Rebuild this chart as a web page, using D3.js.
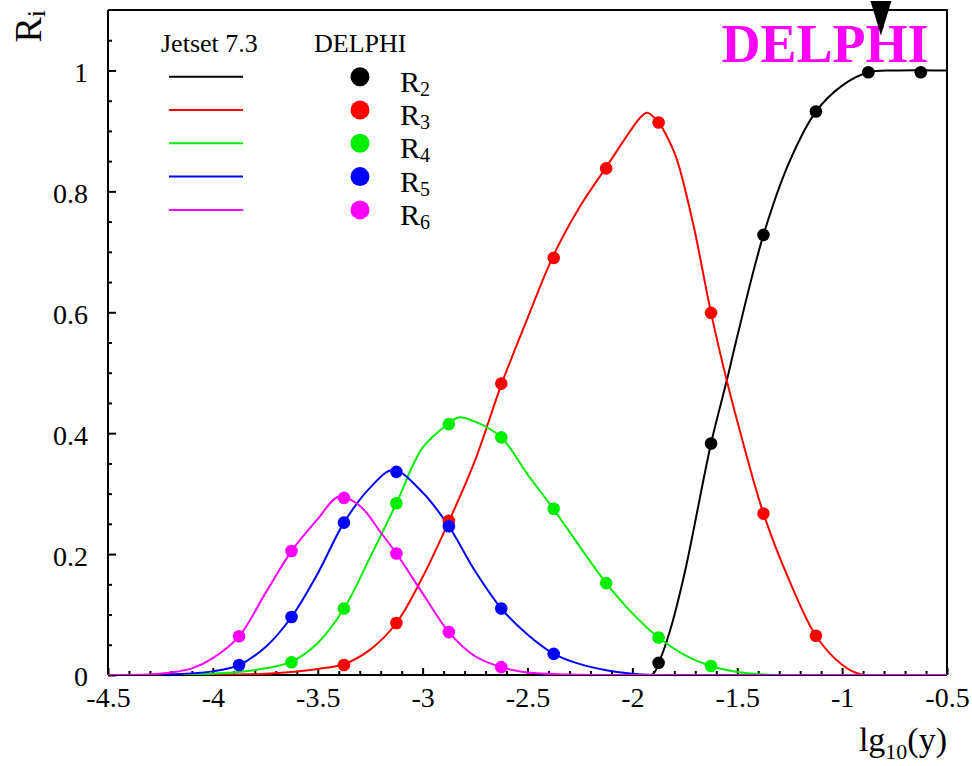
<!DOCTYPE html>
<html>
<head>
<meta charset="utf-8">
<script src="https://cdn.jsdelivr.net/npm/d3@7"></script>
<style>
  html, body { margin: 0; padding: 0; background: #fff; }
  svg { display: block; font-family: "Liberation Serif", "Times New Roman", serif; }
  svg text { font-family: "Liberation Serif", "Times New Roman", serif; }
</style>
</head>
<body>
<svg id="chart" width="972" height="766"></svg>
<script>
// ---------------- data ----------------
const seriesNames = ["R2", "R3", "R4", "R5", "R6"];
const seriesSubs = ["2", "3", "4", "5", "6"];
const seriesColors = ["#000000", "#ff0000", "#00ee00", "#0000ff", "#ff00ff"];

// DELPHI measured points (x = lg10(ycut))
const r2X = [-1.875, -1.625, -1.375, -1.125, -0.875, -0.625];
const r2Y = [0.020, 0.383, 0.728, 0.932, 0.997, 0.997];
const r3X = [-3.375, -3.125, -2.875, -2.625, -2.375, -2.125, -1.875, -1.625, -1.375, -1.125];
const r3Y = [0.0165, 0.086, 0.255, 0.482, 0.690, 0.838, 0.914, 0.599, 0.267, 0.065];
const r4X = [-3.625, -3.375, -3.125, -2.875, -2.625, -2.375, -2.125, -1.875, -1.625];
const r4Y = [0.021, 0.110, 0.284, 0.415, 0.393, 0.275, 0.152, 0.062, 0.015];
const r5X = [-3.875, -3.625, -3.375, -3.125, -2.875, -2.625, -2.375];
const r5Y = [0.0165, 0.096, 0.252, 0.336, 0.246, 0.110, 0.035];
const r6X = [-3.875, -3.625, -3.375, -3.125, -2.875, -2.625];
const r6Y = [0.064, 0.205, 0.293, 0.201, 0.071, 0.013];

// Jetset 7.3 model curves
const mc2X = [-4.5, -1.91, -1.875, -1.82, -1.75, -1.625, -1.55, -1.5, -1.375, -1.25, -1.125, -1.0, -0.875, -0.75, -0.5];
const mc2Y = [0, 0, 0.020, 0.074, 0.170, 0.383, 0.487, 0.560, 0.728, 0.850, 0.932, 0.975, 0.997, 1.0, 1.0];
const mc3X = [-4.5, -3.875, -3.75, -3.625, -3.5, -3.375, -3.25, -3.125, -3.0, -2.875, -2.75, -2.625, -2.5, -2.375, -2.25, -2.125, -2.0, -1.965, -1.93, -1.875, -1.84, -1.79, -1.71, -1.625, -1.55, -1.5, -1.375, -1.25, -1.125, -1.0, -0.9, -0.5];
const mc3Y = [0, 0.001, 0.002, 0.005, 0.010, 0.018, 0.042, 0.086, 0.162, 0.254, 0.355, 0.480, 0.590, 0.695, 0.775, 0.840, 0.905, 0.921, 0.930, 0.914, 0.894, 0.855, 0.746, 0.599, 0.487, 0.420, 0.267, 0.155, 0.065, 0.017, 0, 0];
const mc4X = [-4.5, -4.1, -3.875, -3.75, -3.625, -3.5, -3.375, -3.25, -3.125, -3.0, -2.875, -2.83, -2.75, -2.625, -2.5, -2.375, -2.25, -2.125, -2.0, -1.875, -1.75, -1.625, -1.5, -1.375, -1.3, -0.5];
const mc4Y = [0, 0.001, 0.005, 0.011, 0.022, 0.053, 0.110, 0.195, 0.284, 0.376, 0.416, 0.426, 0.419, 0.393, 0.332, 0.274, 0.212, 0.152, 0.102, 0.062, 0.033, 0.015, 0.005, 0.001, 0, 0];
const mc5X = [-4.5, -4.2, -4.0, -3.875, -3.75, -3.625, -3.5, -3.375, -3.25, -3.14, -3.0, -2.875, -2.75, -2.625, -2.5, -2.375, -2.25, -2.125, -2.0, -1.9, -0.5];
const mc5Y = [0, 0.001, 0.006, 0.0165, 0.046, 0.096, 0.168, 0.252, 0.310, 0.339, 0.302, 0.246, 0.172, 0.110, 0.067, 0.035, 0.018, 0.008, 0.002, 0, 0];
const mc6X = [-4.5, -4.3, -4.2, -4.1, -4.0, -3.875, -3.75, -3.625, -3.5, -3.4, -3.3, -3.2, -3.125, -3.0, -2.875, -2.75, -2.625, -2.5, -2.3, -2.1, -0.5];
const mc6Y = [0, 0.001, 0.004, 0.011, 0.028, 0.064, 0.135, 0.205, 0.258, 0.295, 0.280, 0.236, 0.201, 0.135, 0.071, 0.031, 0.013, 0.004, 0.001, 0, 0];

// axes
const xTicks = [-4.5, -4, -3.5, -3, -2.5, -2, -1.5, -1, -0.5];
const xTickLabels = ["-4.5", "-4", "-3.5", "-3", "-2.5", "-2", "-1.5", "-1", "-0.5"];
const yTicks = [0, 0.2, 0.4, 0.6, 0.8, 1];
const yTickLabels = ["0", "0.2", "0.4", "0.6", "0.8", "1"];
const xDomain = [-4.5, -0.5];
const yDomain = [0, 1.1];
const cutValue = -0.815;   // arrow marker position

// ---------------- build ----------------
const FONT = '"Liberation Serif", "Times New Roman", serif';
const dataX = [r2X, r3X, r4X, r5X, r6X];
const dataY = [r2Y, r3Y, r4Y, r5Y, r6Y];
const mcX = [mc2X, mc3X, mc4X, mc5X, mc6X];
const mcY = [mc2Y, mc3Y, mc4Y, mc5Y, mc6Y];

const svg = d3.select("#chart").attr("font-family", FONT);
const L = 108, R = 947, T = 10, B = 675;
const x = d3.scaleLinear().domain(xDomain).range([L, R]);
const y = d3.scaleLinear().domain(yDomain).range([B, T]);

svg.append("defs").append("clipPath").attr("id", "clip")
  .append("rect").attr("x", L).attr("y", T - 2).attr("width", R - L).attr("height", B - T + 2);

// frame (top & right)
svg.append("path")
  .attr("d", `M${L},${T}H${R}V${B}`)
  .attr("fill", "none").attr("stroke", "#000").attr("stroke-width", 2);

// minor ticks
const xMinor = d3.range(-4.5, -0.5 + 1e-9, 0.1).filter(v => !xTicks.some(t => Math.abs(t - v) < 1e-6));
const yMinor = d3.range(0, 1.1 + 1e-9, 0.05).filter(v => !yTicks.some(t => Math.abs(t - v) < 1e-6) && v < 1.09);

const gx = svg.append("g").attr("transform", `translate(0,${B})`);
gx.call(d3.axisBottom(x).tickValues(xMinor).tickSize(-4).tickFormat(""));
gx.call(g => g.select(".domain").remove());
const gx2 = svg.append("g").attr("transform", `translate(0,${B})`);
gx2.call(d3.axisBottom(x).tickValues(xTicks).tickSize(-7).tickPadding(12)
  .tickFormat((d, i) => xTickLabels[i]));
gx2.select(".domain").attr("stroke-width", 2).attr("d", `M${L},0H${R}`);

const gy = svg.append("g").attr("transform", `translate(${L},0)`);
gy.call(d3.axisLeft(y).tickValues(yMinor).tickSize(-4).tickFormat(""));
gy.call(g => g.select(".domain").remove());
const gy2 = svg.append("g").attr("transform", `translate(${L},0)`);
gy2.call(d3.axisLeft(y).tickValues(yTicks).tickSize(-8).tickPadding(20)
  .tickFormat((d, i) => yTickLabels[i]));
gy2.select(".domain").attr("stroke-width", 2).attr("d", `M0,${T}V${B}`);

[gx, gx2, gy, gy2].forEach(g => g.attr("font-family", FONT));
svg.selectAll(".tick line").attr("stroke-width", 2);
svg.selectAll(".tick text")
  .attr("font-family", FONT)
  .attr("font-size", 28).attr("fill", "#000");
gy2.selectAll(".tick text").attr("dy", "0.39em");

// curves and points
const plot = svg.append("g").attr("clip-path", "url(#clip)");
const line = d3.line().x(d => x(d[0])).y(d => y(d[1])).curve(d3.curveCatmullRom.alpha(0.5));
seriesNames.forEach((name, s) => {
  const pts = mcX[s].map((v, i) => [v, mcY[s][i]]);
  plot.append("path").datum(pts)
    .attr("d", line)
    .attr("fill", "none")
    .attr("stroke", seriesColors[s])
    .attr("stroke-width", 2);
});
seriesNames.forEach((name, s) => {
  const pts = dataX[s].map((v, i) => [v, dataY[s][i]]);
  svg.append("g").selectAll("circle").data(pts).join("circle")
    .attr("cx", d => x(d[0])).attr("cy", d => y(d[1]))
    .attr("r", 6.3).attr("fill", seriesColors[s]);
});

// legend
svg.append("text").attr("x", 161).attr("y", 52).attr("font-size", 26).text("Jetset 7.3");
svg.append("text").attr("x", 314).attr("y", 52).attr("font-size", 26).text("DELPHI");
seriesNames.forEach((name, s) => {
  const ly = 76.7 + 33.3 * s;
  svg.append("line").attr("x1", 169).attr("x2", 243).attr("y1", ly).attr("y2", ly)
    .attr("stroke", seriesColors[s]).attr("stroke-width", 2);
  svg.append("circle").attr("cx", 360).attr("cy", ly).attr("r", 9.5).attr("fill", seriesColors[s]);
  const t = svg.append("text").attr("x", 400).attr("y", ly + 15).attr("font-size", 30);
  t.append("tspan").text("R");
  t.append("tspan").attr("font-size", 20).attr("dy", 4).text(seriesSubs[s]);
});

// axis titles
const yt = svg.append("text")
  .attr("transform", `translate(41,${T}) rotate(-90)`)
  .attr("text-anchor", "end").attr("font-size", 38);
yt.append("tspan").text("R");
yt.append("tspan").attr("font-size", 26).attr("dy", 4).text("i");

const xt = svg.append("text").attr("x", R).attr("y", 751)
  .attr("text-anchor", "end").attr("font-size", 34);
xt.append("tspan").text("lg");
xt.append("tspan").attr("font-size", 22).attr("dy", 8).text("10");
xt.append("tspan").attr("dy", -8).text("(y)");

// DELPHI label
svg.append("text").attr("x", 825).attr("y", 62).attr("text-anchor", "middle")
  .attr("font-size", 54).attr("font-weight", "bold").attr("fill", "#ff00ff").text("DELPHI");

// arrow marker
const halfW = 0.05;
svg.append("path")
  .attr("d", `M${x(cutValue - halfW)},${y(1.115)}L${x(cutValue + halfW)},${y(1.115)}L${x(cutValue)},${y(1.058)}Z`)
  .attr("fill", "#000");
</script>
</body>
</html>
